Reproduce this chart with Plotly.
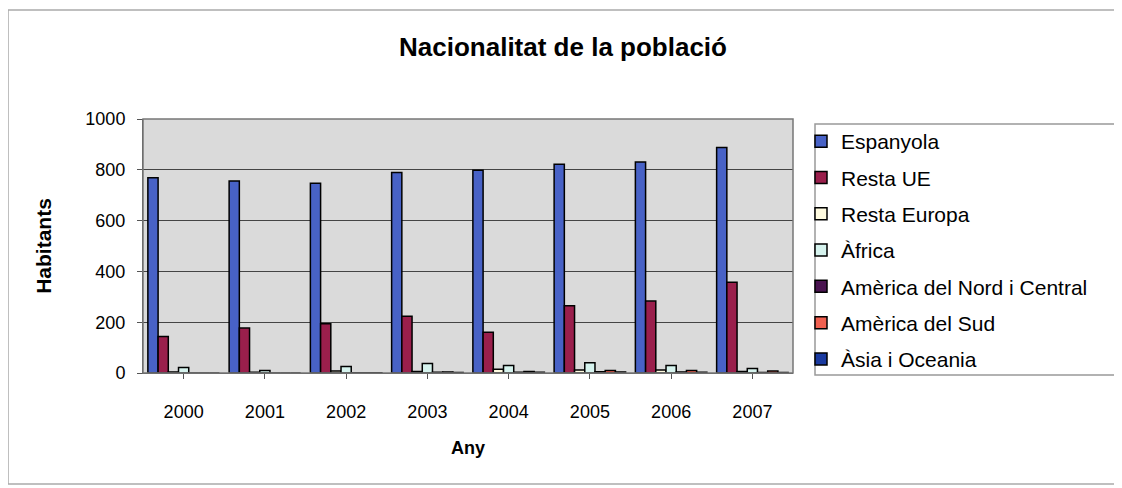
import plotly.graph_objects as go

# Data
years = ["2000", "2001", "2002", "2003", "2004", "2005", "2006", "2007"]
espanyola = [769, 756, 747, 789, 798, 822, 831, 888]
resta_ue = [144, 177, 194, 223, 160, 265, 283, 357]
resta_europa = [4, 3, 8, 6, 15, 12, 12, 6]
africa = [22, 10, 26, 37, 30, 40, 30, 18]
america_nord = [0, 0, 1, 3, 3, 5, 4, 2]
america_sud = [0, 0, 1, 4, 6, 10, 10, 8]
asia_oceania = [0, 0, 1, 2, 3, 4, 3, 2]

series = [
    ("Espanyola", espanyola, "#4862c6"),
    ("Resta UE", resta_ue, "#9a1f4c"),
    ("Resta Europa", resta_europa, "#fffbe0"),
    ("Àfrica", africa, "#d6f3ee"),
    ("Amèrica del Nord i Central", america_nord, "#4a1450"),
    ("Amèrica del Sud", america_sud, "#f06050"),
    ("Àsia i Oceania", asia_oceania, "#1a3aa0"),
]

# pixel geometry of the plot area (page has an 8px body margin)
W, H = 1122, 488
OFF = 8
L, R, T, B = 143, 793, 119, 373
pw, ph = R - L, B - T

def px(x):
    return (x - L) / pw

def py(y):
    return (B - y) / ph

fig = go.Figure()
for i, (name, vals, col) in enumerate(series):
    fig.add_trace(go.Bar(
        x=years, y=vals, name=name, legendgroup=str(i),
        marker=dict(color=col, line=dict(color="black", width=1.5)),
    ))

fig.update_layout(
    width=W, height=H,
    margin=dict(l=L - OFF, r=W - R + OFF, t=T - OFF, b=H - B + OFF),
    paper_bgcolor="white",
    plot_bgcolor="#dadada",
    barmode="group",
    bargap=0.12,
    bargroupgap=0,
    font=dict(family="Liberation Sans, Arial, sans-serif", size=18, color="black"),
    title=dict(text="<b>Nacionalitat de la població</b>", x=(563 - OFF) / W, xanchor="center",
               y=1 - (47 - OFF) / H, yanchor="middle", font=dict(size=26)),
    legend=dict(x=px(801), y=py(121), xanchor="left", yanchor="top",
                font=dict(size=21), tracegroupgap=6, bgcolor="rgba(0,0,0,0)",
                borderwidth=0, itemwidth=30, maxheight=600),
    showlegend=True,
)

fig.update_xaxes(
    title=dict(text="<b>Any</b>", standoff=20, font=dict(size=18)),
    showline=True, linecolor="#555555", linewidth=1,
    ticks="outside", ticklen=5, tickcolor="#555555",
    ticklabelstandoff=17,
)
fig.update_yaxes(
    title=dict(text="<b>Habitants</b>", standoff=28, font=dict(size=21)),
    range=[0, 1000], dtick=200,
    showgrid=True, gridcolor="#444444", gridwidth=1,
    showline=True, linecolor="#555555", linewidth=1,
    ticks="outside", ticklen=5, tickcolor="#555555",
    ticklabelstandoff=8, zeroline=False,
)

shapes = [
    # plot area border
    dict(type="rect", xref="paper", yref="paper", x0=0, y0=0, x1=1, y1=1,
         line=dict(color="#777777", width=1.5)),
    # legend box
    dict(type="rect", xref="paper", yref="paper", x0=px(815), y0=py(375),
         x1=px(1140), y1=py(124), line=dict(color="#999999", width=1.5)),
    # outer chart border
    dict(type="rect", xref="paper", yref="paper", x0=px(8), y0=py(484),
         x1=px(1140), y1=py(10), line=dict(color="#aaaaaa", width=1.5)),
]
fig.update_layout(shapes=shapes)

fig.write_html("out.html")
